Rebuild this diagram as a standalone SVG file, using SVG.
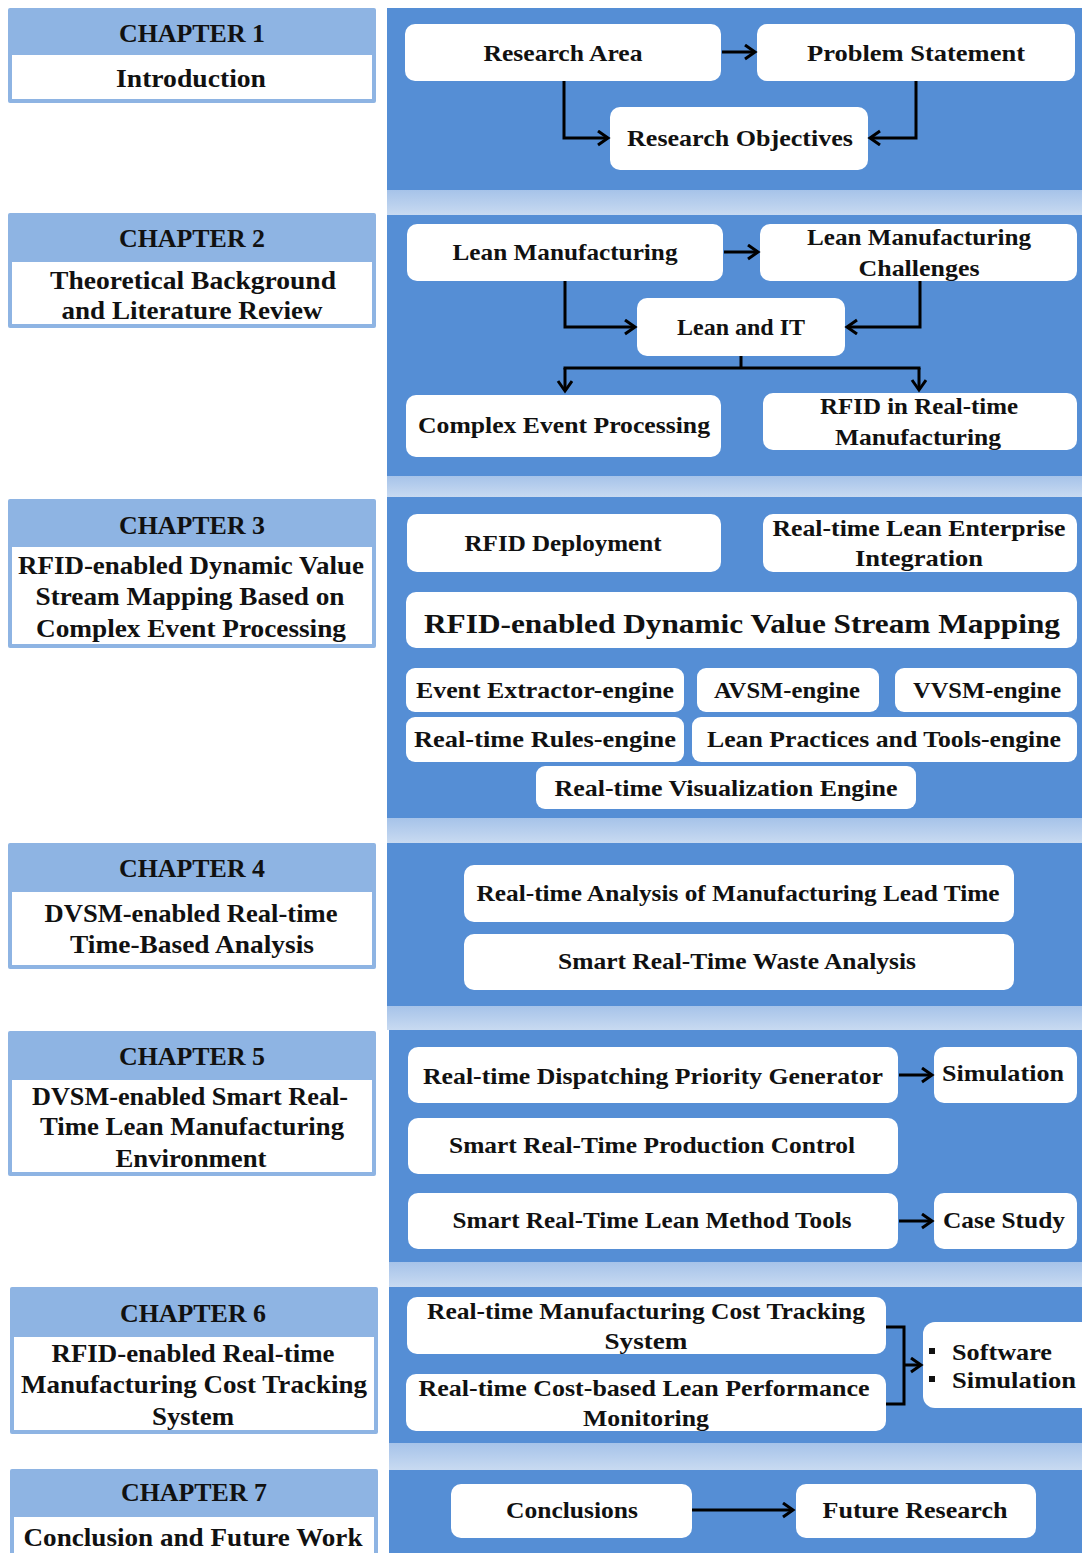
<svg xmlns="http://www.w3.org/2000/svg" width="1082" height="1553" viewBox="0 0 1082 1553">
  <style>
    .panel { fill: #558ED5; }
    .strip { fill: url(#stripGrad); }
    .chhead { fill: #8EB4E3; }
    .chbody { fill: #FFFFFF; stroke: #8EB4E3; stroke-width: 3; }
    .box { fill: #FFFFFF; }
    text { font-family: "Liberation Serif", "DejaVu Serif", serif; font-weight: bold; fill: #111111; text-anchor: middle; dominant-baseline: central; }
    .ch { font-size: 26px; }
    .cb { font-size: 25px; }
    .t { font-size: 23px; }
    .big { font-size: 28px; }
    .conn { fill: none; stroke: #000000; stroke-width: 3; }
  </style>
  <defs>
    <linearGradient id="stripGrad" x1="0" y1="0" x2="0" y2="1">
      <stop offset="0" stop-color="#A6C3E9"/>
      <stop offset="1" stop-color="#C8DAF1"/>
    </linearGradient>
    <marker id="arrow" markerUnits="userSpaceOnUse" markerWidth="16" markerHeight="18" refX="12" refY="8" orient="auto">
      <path d="M2,1 L12,8 L2,15" fill="none" stroke="#000000" stroke-width="3"/>
    </marker>
  </defs>

  <rect width="1082" height="1553" fill="#FFFFFF"/>

  <!-- right-hand background: blue panels separated by light strips -->
  <g id="panels">
    <rect class="panel" x="387" y="8" width="695" height="182"/>
    <rect class="strip" x="387" y="190" width="695" height="25"/>
    <rect class="panel" x="387" y="215" width="695" height="261"/>
    <rect class="strip" x="387" y="476" width="695" height="21"/>
    <rect class="panel" x="387" y="497" width="695" height="321"/>
    <rect class="strip" x="387" y="818" width="695" height="25"/>
    <rect class="panel" x="387" y="843" width="695" height="163"/>
    <rect class="strip" x="387" y="1006" width="695" height="24"/>
    <rect class="panel" x="389" y="1030" width="693" height="232"/>
    <rect class="strip" x="389" y="1262" width="693" height="25"/>
    <rect class="panel" x="389" y="1287" width="693" height="156"/>
    <rect class="strip" x="389" y="1443" width="693" height="27"/>
    <rect class="panel" x="389" y="1470" width="693" height="83"/>
  </g>

  <!-- chapter column -->
  <g id="chapter1">
    <rect class="chhead" x="8" y="8" width="368" height="95" rx="2"/>
    <rect class="chbody" x="10.5" y="53.5" width="363" height="47"/>
    <text class="ch" x="192" y="33" textLength="146" lengthAdjust="spacingAndGlyphs">CHAPTER 1</text>
    <text class="cb" x="191" y="78" textLength="150" lengthAdjust="spacingAndGlyphs">Introduction</text>
  </g>
  <g id="chapter2">
    <rect class="chhead" x="8" y="213" width="368" height="115" rx="2"/>
    <rect class="chbody" x="10.5" y="260.5" width="363" height="65"/>
    <text class="ch" x="192" y="238" textLength="146" lengthAdjust="spacingAndGlyphs">CHAPTER 2</text>
    <text class="cb" x="193" y="280" textLength="286" lengthAdjust="spacingAndGlyphs">Theoretical Background</text>
    <text class="cb" x="192" y="310" textLength="261" lengthAdjust="spacingAndGlyphs">and Literature Review</text>
  </g>
  <g id="chapter3">
    <rect class="chhead" x="8" y="499" width="368" height="149" rx="2"/>
    <rect class="chbody" x="10.5" y="545.5" width="363" height="100"/>
    <text class="ch" x="192" y="525" textLength="146" lengthAdjust="spacingAndGlyphs">CHAPTER 3</text>
    <text class="cb" x="191" y="565" textLength="346" lengthAdjust="spacingAndGlyphs">RFID-enabled Dynamic Value</text>
    <text class="cb" x="190" y="596" textLength="309" lengthAdjust="spacingAndGlyphs">Stream Mapping Based on</text>
    <text class="cb" x="191" y="628" textLength="310" lengthAdjust="spacingAndGlyphs">Complex Event Processing</text>
  </g>
  <g id="chapter4">
    <rect class="chhead" x="8" y="843" width="368" height="126" rx="2"/>
    <rect class="chbody" x="10.5" y="890.5" width="363" height="76"/>
    <text class="ch" x="192" y="868" textLength="146" lengthAdjust="spacingAndGlyphs">CHAPTER 4</text>
    <text class="cb" x="191" y="913" textLength="293" lengthAdjust="spacingAndGlyphs">DVSM-enabled Real-time</text>
    <text class="cb" x="192" y="944" textLength="244" lengthAdjust="spacingAndGlyphs">Time-Based Analysis</text>
  </g>
  <g id="chapter5">
    <rect class="chhead" x="8" y="1031" width="368" height="145" rx="2"/>
    <rect class="chbody" x="10.5" y="1078.5" width="363" height="95"/>
    <text class="ch" x="192" y="1056" textLength="146" lengthAdjust="spacingAndGlyphs">CHAPTER 5</text>
    <text class="cb" x="190" y="1096" textLength="316" lengthAdjust="spacingAndGlyphs">DVSM-enabled Smart Real-</text>
    <text class="cb" x="192" y="1126" textLength="304" lengthAdjust="spacingAndGlyphs">Time Lean Manufacturing</text>
    <text class="cb" x="191" y="1158" textLength="151" lengthAdjust="spacingAndGlyphs">Environment</text>
  </g>
  <g id="chapter6">
    <rect class="chhead" x="10" y="1287" width="368" height="147" rx="2"/>
    <rect class="chbody" x="12.5" y="1335.5" width="363" height="96"/>
    <text class="ch" x="193" y="1313" textLength="146" lengthAdjust="spacingAndGlyphs">CHAPTER 6</text>
    <text class="cb" x="193" y="1353" textLength="283" lengthAdjust="spacingAndGlyphs">RFID-enabled Real-time</text>
    <text class="cb" x="194" y="1384" textLength="346" lengthAdjust="spacingAndGlyphs">Manufacturing Cost Tracking</text>
    <text class="cb" x="193" y="1416" textLength="82" lengthAdjust="spacingAndGlyphs">System</text>
  </g>
  <g id="chapter7">
    <rect class="chhead" x="10" y="1469" width="368" height="90" rx="2"/>
    <rect class="chbody" x="12.5" y="1515.5" width="363" height="45"/>
    <text class="ch" x="194" y="1492" textLength="146" lengthAdjust="spacingAndGlyphs">CHAPTER 7</text>
    <text class="cb" x="193" y="1537" textLength="339" lengthAdjust="spacingAndGlyphs">Conclusion and Future Work</text>
  </g>

  <!-- chapter 1 content -->
  <g id="research-area">
    <rect class="box" x="405" y="24" width="316" height="57" rx="10"/>
    <text class="t" x="563" y="53" textLength="159" lengthAdjust="spacingAndGlyphs">Research Area</text>
  </g>
  <g id="problem-statement">
    <rect class="box" x="757" y="24" width="318" height="57" rx="10"/>
    <text class="t" x="916" y="53" textLength="218" lengthAdjust="spacingAndGlyphs">Problem Statement</text>
  </g>
  <g id="research-objectives">
    <rect class="box" x="610" y="107" width="258" height="63" rx="10"/>
    <text class="t" x="740" y="138" textLength="226" lengthAdjust="spacingAndGlyphs">Research Objectives</text>
  </g>

  <!-- chapter 2 content -->
  <g id="lean-manufacturing">
    <rect class="box" x="407" y="224" width="316" height="57" rx="10"/>
    <text class="t" x="565" y="252" textLength="225" lengthAdjust="spacingAndGlyphs">Lean Manufacturing</text>
  </g>
  <g id="lean-challenges">
    <rect class="box" x="760" y="224" width="317" height="57" rx="10"/>
    <text class="t" x="919" y="237" textLength="224" lengthAdjust="spacingAndGlyphs">Lean Manufacturing</text>
    <text class="t" x="919" y="268" textLength="121" lengthAdjust="spacingAndGlyphs">Challenges</text>
  </g>
  <g id="lean-and-it">
    <rect class="box" x="637" y="298" width="208" height="58" rx="10"/>
    <text class="t" x="741" y="327" textLength="128" lengthAdjust="spacingAndGlyphs">Lean and IT</text>
  </g>
  <g id="complex-event-processing">
    <rect class="box" x="406" y="395" width="315" height="62" rx="10"/>
    <text class="t" x="564" y="425" textLength="292" lengthAdjust="spacingAndGlyphs">Complex Event Processing</text>
  </g>
  <g id="rfid-real-time">
    <rect class="box" x="763" y="393" width="314" height="57" rx="10"/>
    <text class="t" x="919" y="406" textLength="198" lengthAdjust="spacingAndGlyphs">RFID in Real-time</text>
    <text class="t" x="918" y="437" textLength="166" lengthAdjust="spacingAndGlyphs">Manufacturing</text>
  </g>

  <!-- chapter 3 content -->
  <g id="rfid-deployment">
    <rect class="box" x="407" y="514" width="314" height="58" rx="10"/>
    <text class="t" x="563" y="543" textLength="197" lengthAdjust="spacingAndGlyphs">RFID Deployment</text>
  </g>
  <g id="lean-enterprise-integration">
    <rect class="box" x="763" y="514" width="314" height="58" rx="10"/>
    <text class="t" x="919" y="528" textLength="293" lengthAdjust="spacingAndGlyphs">Real-time Lean Enterprise</text>
    <text class="t" x="919" y="558" textLength="128" lengthAdjust="spacingAndGlyphs">Integration</text>
  </g>
  <g id="dvsm">
    <rect class="box" x="406" y="592" width="671" height="56" rx="10"/>
    <text class="big" x="742" y="623" textLength="636" lengthAdjust="spacingAndGlyphs">RFID-enabled Dynamic Value Stream Mapping</text>
  </g>
  <g id="event-extractor">
    <rect class="box" x="406" y="668" width="278" height="44" rx="9"/>
    <text class="t" x="545" y="690" textLength="258" lengthAdjust="spacingAndGlyphs">Event Extractor-engine</text>
  </g>
  <g id="avsm-engine">
    <rect class="box" x="697" y="668" width="182" height="44" rx="9"/>
    <text class="t" x="787" y="690" textLength="146" lengthAdjust="spacingAndGlyphs">AVSM-engine</text>
  </g>
  <g id="vvsm-engine">
    <rect class="box" x="895" y="668" width="182" height="44" rx="9"/>
    <text class="t" x="987" y="690" textLength="148" lengthAdjust="spacingAndGlyphs">VVSM-engine</text>
  </g>
  <g id="rules-engine">
    <rect class="box" x="406" y="717" width="278" height="45" rx="9"/>
    <text class="t" x="545" y="739" textLength="262" lengthAdjust="spacingAndGlyphs">Real-time Rules-engine</text>
  </g>
  <g id="lean-practices-engine">
    <rect class="box" x="692" y="717" width="385" height="45" rx="9"/>
    <text class="t" x="884" y="739" textLength="354" lengthAdjust="spacingAndGlyphs">Lean Practices and Tools-engine</text>
  </g>
  <g id="visualization-engine">
    <rect class="box" x="536" y="766" width="380" height="43" rx="9"/>
    <text class="t" x="726" y="788" textLength="343" lengthAdjust="spacingAndGlyphs">Real-time Visualization Engine</text>
  </g>

  <!-- chapter 4 content -->
  <g id="lead-time-analysis">
    <rect class="box" x="464" y="865" width="550" height="57" rx="10"/>
    <text class="t" x="738" y="893" textLength="523" lengthAdjust="spacingAndGlyphs">Real-time Analysis of Manufacturing Lead Time</text>
  </g>
  <g id="waste-analysis">
    <rect class="box" x="464" y="934" width="550" height="56" rx="10"/>
    <text class="t" x="737" y="961" textLength="358" lengthAdjust="spacingAndGlyphs">Smart Real-Time Waste Analysis</text>
  </g>

  <!-- chapter 5 content -->
  <g id="dispatching-priority">
    <rect class="box" x="408" y="1047" width="490" height="56" rx="10"/>
    <text class="t" x="653" y="1076" textLength="460" lengthAdjust="spacingAndGlyphs">Real-time Dispatching Priority Generator</text>
  </g>
  <g id="simulation">
    <rect class="box" x="934" y="1047" width="143" height="56" rx="10"/>
    <text class="t" x="1003" y="1073" textLength="122" lengthAdjust="spacingAndGlyphs">Simulation</text>
  </g>
  <g id="production-control">
    <rect class="box" x="408" y="1118" width="490" height="56" rx="10"/>
    <text class="t" x="652" y="1145" textLength="406" lengthAdjust="spacingAndGlyphs">Smart Real-Time Production Control</text>
  </g>
  <g id="lean-method-tools">
    <rect class="box" x="408" y="1193" width="490" height="56" rx="10"/>
    <text class="t" x="652" y="1220" textLength="399" lengthAdjust="spacingAndGlyphs">Smart Real-Time Lean Method Tools</text>
  </g>
  <g id="case-study">
    <rect class="box" x="934" y="1193" width="143" height="56" rx="10"/>
    <text class="t" x="1004" y="1220" textLength="122" lengthAdjust="spacingAndGlyphs">Case Study</text>
  </g>

  <!-- chapter 6 content -->
  <g id="cost-tracking">
    <rect class="box" x="407" y="1297" width="479" height="57" rx="10"/>
    <text class="t" x="646" y="1311" textLength="438" lengthAdjust="spacingAndGlyphs">Real-time Manufacturing Cost Tracking</text>
    <text class="t" x="646" y="1341" textLength="83" lengthAdjust="spacingAndGlyphs">System</text>
  </g>
  <g id="performance-monitoring">
    <rect class="box" x="406" y="1374" width="480" height="57" rx="10"/>
    <text class="t" x="644" y="1388" textLength="451" lengthAdjust="spacingAndGlyphs">Real-time Cost-based Lean  Performance</text>
    <text class="t" x="646" y="1418" textLength="126" lengthAdjust="spacingAndGlyphs">Monitoring</text>
  </g>
  <g id="software-simulation">
    <rect class="box" x="923" y="1322" width="170" height="86" rx="12"/>
    <rect x="929" y="1348" width="6" height="6" fill="#111111"/>
    <rect x="929" y="1376" width="6" height="6" fill="#111111"/>
    <text class="t" x="952" y="1352" style="text-anchor: start" textLength="100" lengthAdjust="spacingAndGlyphs">Software</text>
    <text class="t" x="952" y="1380" style="text-anchor: start" textLength="124" lengthAdjust="spacingAndGlyphs">Simulation</text>
  </g>

  <!-- chapter 7 content -->
  <g id="conclusions">
    <rect class="box" x="451" y="1484" width="241" height="54" rx="10"/>
    <text class="t" x="572" y="1510" textLength="132" lengthAdjust="spacingAndGlyphs">Conclusions</text>
  </g>
  <g id="future-research">
    <rect class="box" x="796" y="1484" width="240" height="54" rx="10"/>
    <text class="t" x="915" y="1510" textLength="185" lengthAdjust="spacingAndGlyphs">Future Research</text>
  </g>

  <!-- connectors -->
  <g id="connectors">
    <line class="conn" x1="722" y1="52" x2="755" y2="52" marker-end="url(#arrow)"/>
    <path class="conn" d="M564,81 V138 H608" marker-end="url(#arrow)"/>
    <path class="conn" d="M916,81 V138 H870" marker-end="url(#arrow)"/>

    <line class="conn" x1="724" y1="252" x2="758" y2="252" marker-end="url(#arrow)"/>
    <path class="conn" d="M565,281 V327 H635" marker-end="url(#arrow)"/>
    <path class="conn" d="M920,281 V327 H847" marker-end="url(#arrow)"/>
    <path class="conn" d="M741,356 V368"/>
    <path class="conn" d="M563.5,368 H920.5"/>
    <path class="conn" d="M565,368 V391" marker-end="url(#arrow)"/>
    <path class="conn" d="M919,368 V390" marker-end="url(#arrow)"/>

    <line class="conn" x1="899" y1="1075" x2="932" y2="1075" marker-end="url(#arrow)"/>
    <line class="conn" x1="899" y1="1221" x2="932" y2="1221" marker-end="url(#arrow)"/>

    <path class="conn" d="M886,1327 H904 V1404 H886"/>
    <line class="conn" x1="904" y1="1365" x2="921" y2="1365" marker-end="url(#arrow)"/>

    <line class="conn" x1="692" y1="1510" x2="793" y2="1510" marker-end="url(#arrow)"/>
  </g>
</svg>
